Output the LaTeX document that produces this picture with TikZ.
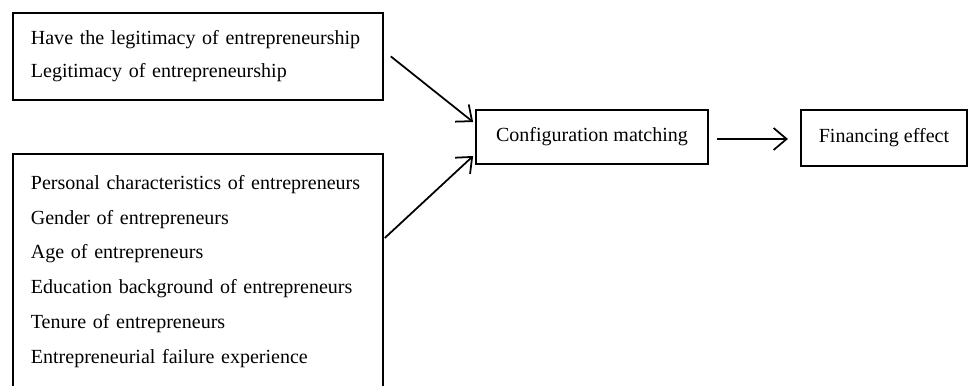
\documentclass[tikz,border=0pt]{standalone}
\usepackage{fontspec}
\setmainfont{Liberation Serif}
\usetikzlibrary{positioning}
\usetikzlibrary{arrows.meta}
\usetikzlibrary{calc}

\begin{document}
\begin{tikzpicture}[x=0.2mm, y=-0.2mm,
        box/.style={draw, line width=1pt, inner xsep=3.6mm, font=\fontsize{11.4}{19.8}\selectfont},
        flow/.style={line width=1pt, -{Straight Barb[length=2.6mm, width=4.4mm]}}]
        \useasboundingbox (0,0) rectangle (968,386);
        \node [box, anchor=north west, text width=66.8mm, align=left, minimum height=17.4mm,
               font=\fontsize{11.4}{18.8}\selectfont]
            (legit) at (12,12)
            {Have the legitimacy of entrepreneurship\\Legitimacy of entrepreneurship};
        \node [box, anchor=north west, text width=66.8mm, align=left, minimum height=47mm]
            (personal) at (12,153)
            {Personal characteristics of entrepreneurs\\Gender of entrepreneurs\\Age of entrepreneurs\\Education background of entrepreneurs\\Tenure of entrepreneurs\\Entrepreneurial failure experience};
        \node [box, minimum width=46.4mm, minimum height=10.8mm, align=center]
            (config) at (592,137)
            {Configuration matching};
        \node [box, minimum width=32.8mm, minimum height=11.2mm, align=center]
            (finance) at (884,138)
            {Financing effect};
        \draw [flow] ($(legit.east)+(7,0)$) -- ($(config.west)+(-2,-15)$);
        \draw [flow] ($(personal.north east)+(1,85)$) -- ($(config.west)+(-2,19)$);
        \draw [flow] ($(config.east)+(8,2)$) -- ($(finance.west)+(-12,1)$);
    \end{tikzpicture}
\end{document}
